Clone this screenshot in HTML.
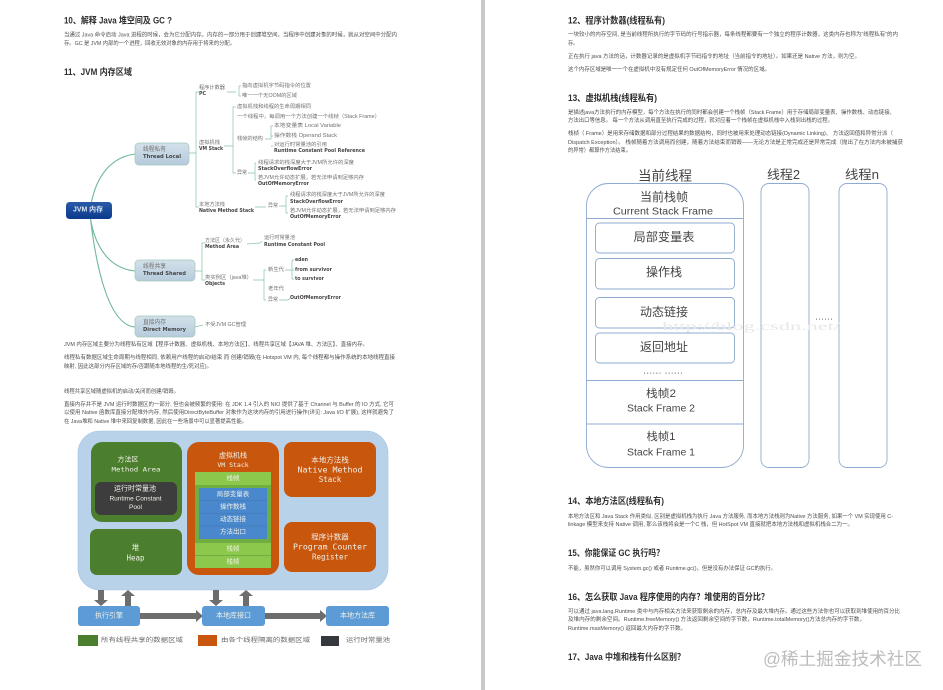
<!DOCTYPE html>
<html lang="zh"><head><meta charset="utf-8"><title>JVM 内存</title>
<style>
html,body{margin:0;padding:0;background:#fff;width:943px;height:690px;overflow:hidden}
svg{display:block;font-family:"Liberation Sans","Noto Sans CJK SC",sans-serif}
text{dominant-baseline:central}
.h{font-size:9px;font-weight:bold;fill:#2e2e2e}
.b{font-size:5.6px;fill:#4e4e4e}
.m{font-size:5.2px;fill:#707070}
.k{font-size:5px;font-weight:bold;fill:#444;font-family:"DejaVu Sans","Noto Sans CJK SC",sans-serif}
.w{fill:#f0f0e8;font-size:8px}
.mono{font-family:"DejaVu Sans Mono","Noto Sans CJK SC",monospace}
.t{fill:#444;text-anchor:middle}
.l{fill:#666;font-size:6px}
.g{fill:none;stroke:#86c4a6;stroke-width:.7}
.s{fill:none;stroke:#8fabd0;stroke-width:.9}
</style></head><body>
<svg width="943" height="690" viewBox="0 0 943 690" xmlns="http://www.w3.org/2000/svg">
<defs>
<filter id="bl" x="-2%" y="-2%" width="104%" height="104%"><feGaussianBlur stdDeviation="0.3"/></filter>
<linearGradient id="tb" x1="0" y1="0" x2="0" y2="1"><stop offset="0" stop-color="#d3e0ea"/><stop offset="1" stop-color="#b5cbdc"/></linearGradient>
<linearGradient id="jb" x1="0" y1="0" x2="0" y2="1"><stop offset="0" stop-color="#2a5aa8"/><stop offset="1" stop-color="#0c3a8c"/></linearGradient>
</defs>
<rect x="481" y="0" width="4" height="690" fill="#c8c8c8"/>
<g filter="url(#bl)">
<!-- left page text -->
<text class="h" x="64" y="20.5" textLength="108" lengthAdjust="spacingAndGlyphs">10、解释 Java 堆空间及 GC ?</text>
<text class="b" x="64" y="35.5" textLength="333" lengthAdjust="spacingAndGlyphs">当通过 Java 命令启动 Java 进程的时候，会为它分配内存。内存的一部分用于创建堆空间，当程序中创建对象的时候，就从对空间中分配内</text>
<text class="b" x="64" y="44" textLength="171" lengthAdjust="spacingAndGlyphs">存。GC 是 JVM 内部的一个进程，回收无效对象的内存用于将来的分配。</text>
<text class="h" x="64" y="72" textLength="68" lengthAdjust="spacingAndGlyphs">11、JVM 内存区域</text>
<!-- mind map lines -->
<path class="g" style="stroke-width:1.1;stroke:#6fb99a" d="M91.500 202C95 185 105 158 135 154M90.500 219C94 240 105 268 135 271M90.500 219C96 265 108 325 135 327"/>
<path class="g" d="M189 153H196M199 92H196V207H199M224 146H233M236 107H233V173H236M227 92H236M239 86V96M241 86H239M241 96H239M265 139H271V126H273M271 146H273M271 136H273M248 173H255M255 163V180M256 163H255M256 180H255M255 207H266M279 206H286M286 196V213M288 196H286M288 213H286"/>
<path class="g" d="M195 271H202M205 243H202V280H205M247 244L260 243M260 243L262 241M253 280H264M266 270H264V300H266M285 270H292M292 260V279M294 260H292M294 270H292M294 279H292M279 300H288L290 298M195 327L203 325"/>
<!-- boxes -->
<rect x="135" y="143" width="54" height="22" rx="4" fill="url(#tb)" stroke="#a3c8bd" stroke-width=".7"/>
<rect x="135" y="260" width="60" height="21" rx="4" fill="url(#tb)" stroke="#a3c8bd" stroke-width=".7"/>
<rect x="135" y="316" width="60" height="21" rx="4" fill="url(#tb)" stroke="#a3c8bd" stroke-width=".7"/>
<rect x="66" y="202" width="46" height="17" rx="3.500" fill="url(#jb)"/>
<text x="73" y="210" textLength="30" lengthAdjust="spacingAndGlyphs" style="font-size:7px;font-weight:bold;fill:#dfe8f5">JVM 内存</text>
<text class="m" x="143" y="150" textLength="23" lengthAdjust="spacingAndGlyphs" style="font-size:6px">线程私有</text>
<text class="k" x="143" y="157" textLength="38" lengthAdjust="spacingAndGlyphs" style="font-size:5.600px">Thread Local</text>
<text class="m" x="143" y="267" textLength="23" lengthAdjust="spacingAndGlyphs" style="font-size:6px">线程共享</text>
<text class="k" x="143" y="274" textLength="43" lengthAdjust="spacingAndGlyphs" style="font-size:5.600px">Thread Shared</text>
<text class="m" x="143" y="323" textLength="23" lengthAdjust="spacingAndGlyphs" style="font-size:6px">直接内存</text>
<text class="k" x="143" y="330" textLength="43" lengthAdjust="spacingAndGlyphs" style="font-size:5.600px">Direct Memory</text>
<!-- mind map labels -->
<text class="m" x="199" y="88" textLength="26" lengthAdjust="spacingAndGlyphs">程序计数器</text>
<text class="k" x="199" y="94" textLength="7" lengthAdjust="spacingAndGlyphs">PC</text>
<text class="m" x="242" y="86" textLength="69" lengthAdjust="spacingAndGlyphs">指向虚拟机字节码指令的位置</text>
<text class="m" x="242" y="96" textLength="55" lengthAdjust="spacingAndGlyphs">唯一一个无OOM的区域</text>
<text class="m" x="237" y="107" textLength="74" lengthAdjust="spacingAndGlyphs">虚拟机栈和线程的生命周期相同</text>
<text class="m" x="237" y="117" textLength="143" lengthAdjust="spacingAndGlyphs">一个线程中，每调用一个方法创建一个线帧（Stack Frame）</text>
<text class="m" x="237" y="139" textLength="26" lengthAdjust="spacingAndGlyphs">栈帧的结构</text>
<text class="m" x="274" y="126" textLength="67" lengthAdjust="spacingAndGlyphs">本地变量表 Local Variable</text>
<text class="m" x="274" y="136" textLength="63" lengthAdjust="spacingAndGlyphs">操作数栈 Operand Stack</text>
<text class="m" x="274" y="145" textLength="53" lengthAdjust="spacingAndGlyphs">对运行时常量池的引用</text>
<text class="k" x="274" y="151" textLength="91" lengthAdjust="spacingAndGlyphs">Runtime Constant Pool Reference</text>
<text class="m" x="199" y="143" textLength="21" lengthAdjust="spacingAndGlyphs">虚拟机栈</text>
<text class="k" x="199" y="149" textLength="24" lengthAdjust="spacingAndGlyphs">VM Stack</text>
<text class="m" x="237" y="173" textLength="10" lengthAdjust="spacingAndGlyphs">异常</text>
<text class="m" x="258" y="163" textLength="96" lengthAdjust="spacingAndGlyphs">线程请求的栈深度大于JVM所允许的深度</text>
<text class="k" x="258" y="169" textLength="54" lengthAdjust="spacingAndGlyphs">StackOverflowError</text>
<text class="m" x="258" y="178" textLength="106" lengthAdjust="spacingAndGlyphs">若JVM允许动态扩展，若无法申请到足够内存</text>
<text class="k" x="258" y="184" textLength="51" lengthAdjust="spacingAndGlyphs">OutOfMemoryError</text>
<text class="m" x="199" y="205" textLength="26" lengthAdjust="spacingAndGlyphs">本地方法栈</text>
<text class="k" x="199" y="211" textLength="55" lengthAdjust="spacingAndGlyphs">Native Method Stack</text>
<text class="m" x="268" y="206" textLength="10" lengthAdjust="spacingAndGlyphs">异常</text>
<text class="m" x="290" y="195" textLength="95" lengthAdjust="spacingAndGlyphs">线程请求的栈深度大于JVM所允许的深度</text>
<text class="k" x="290" y="202" textLength="53" lengthAdjust="spacingAndGlyphs">StackOverflowError</text>
<text class="m" x="290" y="211" textLength="106" lengthAdjust="spacingAndGlyphs">若JVM允许动态扩展，若无法申请到足够内存</text>
<text class="k" x="290" y="217" textLength="51" lengthAdjust="spacingAndGlyphs">OutOfMemoryError</text>
<text class="m" x="205" y="241" textLength="40" lengthAdjust="spacingAndGlyphs">方法区（永久代）</text>
<text class="k" x="205" y="247" textLength="34" lengthAdjust="spacingAndGlyphs">Method Area</text>
<text class="m" x="264" y="238" textLength="31" lengthAdjust="spacingAndGlyphs">运行时常量池</text>
<text class="k" x="264" y="245" textLength="61" lengthAdjust="spacingAndGlyphs">Runtime Constant Pool</text>
<text class="m" x="205" y="278" textLength="47" lengthAdjust="spacingAndGlyphs">类实例区（java堆）</text>
<text class="k" x="205" y="284" textLength="20" lengthAdjust="spacingAndGlyphs">Objects</text>
<text class="m" x="268" y="270" textLength="16" lengthAdjust="spacingAndGlyphs">新生代</text>
<text class="m" x="268" y="289" textLength="16" lengthAdjust="spacingAndGlyphs">老年代</text>
<text class="m" x="268" y="300" textLength="10" lengthAdjust="spacingAndGlyphs">异常</text>
<text class="k" x="295" y="260" textLength="13" lengthAdjust="spacingAndGlyphs">eden</text>
<text class="k" x="295" y="270" textLength="37" lengthAdjust="spacingAndGlyphs">from survivor</text>
<text class="k" x="295" y="279" textLength="29" lengthAdjust="spacingAndGlyphs">to survivor</text>
<text class="k" x="290" y="298" textLength="51" lengthAdjust="spacingAndGlyphs">OutOfMemoryError</text>
<text class="m" x="205" y="325" textLength="41" lengthAdjust="spacingAndGlyphs">不受JVM GC管理</text>
<!-- middle text -->
<text class="b" x="64" y="345" textLength="304" lengthAdjust="spacingAndGlyphs">JVM 内存区域主要分为线程私有区域【程序计数器、虚拟机栈、本地方法区】、线程共享区域【JAVA 堆、方法区】、直接内存。</text>
<text class="b" x="64" y="358" textLength="331" lengthAdjust="spacingAndGlyphs">线程私有数据区域生命周期与线程相同, 依赖用户线程的启动/结束 而 创建/销毁(在 Hotspot VM 内, 每个线程都与操作系统的本地线程直接</text>
<text class="b" x="64" y="367" textLength="148" lengthAdjust="spacingAndGlyphs">映射, 因此这部分内存区域的存/否跟随本地线程的生/死对应)。</text>
<text class="b" x="64" y="392" textLength="115" lengthAdjust="spacingAndGlyphs">线程共享区域随虚拟机的启动/关闭而创建/销毁。</text>
<text class="b" x="64" y="405" textLength="330" lengthAdjust="spacingAndGlyphs">直接内存并不是 JVM 运行时数据区的一部分, 但也会被频繁的使用: 在 JDK 1.4 引入的 NIO 提供了基于 Channel 与 Buffer 的 IO 方式, 它可</text>
<text class="b" x="64" y="413" textLength="330" lengthAdjust="spacingAndGlyphs">以使用 Native 函数库直接分配堆外内存, 然后使用DirectByteBuffer 对象作为这块内存的引用进行操作(详见: Java I/O 扩展), 这样就避免了</text>
<text class="b" x="64" y="422" textLength="183" lengthAdjust="spacingAndGlyphs">在 Java堆和 Native 堆中来回复制数据, 因此在一些场景中可以显著提高性能。</text>
<!-- JVM area diagram -->
<rect x="78" y="431" width="310" height="159" rx="22" fill="#b8d2ea" stroke="#a5c2de" stroke-width=".6"/>
<rect x="91" y="442" width="91" height="80" rx="11" fill="#4c7f2e"/>
<rect x="95" y="482" width="82" height="33" rx="6" fill="#3d3d3d"/>
<rect x="90" y="529" width="92" height="46" rx="7" fill="#4c7f2e"/>
<rect x="187" y="442" width="92" height="133" rx="12" fill="#c9560f"/>
<rect x="195" y="472" width="76" height="96" fill="#6fae42"/>
<rect x="195" y="472" width="76" height="13" fill="#8cc84b"/>
<rect x="195" y="543" width="76" height="12" fill="#8cc84b"/>
<rect x="195" y="556" width="76" height="12" fill="#8cc84b"/>
<rect x="199" y="488" width="68" height="51" fill="#4a88cc"/>
<path d="M199 500.500H267M199 513.500H267M199 526H267" stroke="#3f72ad" stroke-width=".6" fill="none"/>
<rect x="284" y="442" width="92" height="55" rx="8" fill="#c9560f"/>
<rect x="284" y="522" width="92" height="50" rx="8" fill="#c9560f"/>
<text class="w" x="128" y="460" text-anchor="middle" style="font-size:7px">方法区</text>
<text class="w mono" x="136" y="469.500" text-anchor="middle" textLength="49" lengthAdjust="spacingAndGlyphs" style="font-size:6.500px">Method Area</text>
<text class="w" x="135" y="489" text-anchor="middle" style="font-size:7px">运行时常量池</text>
<text class="w" x="135.500" y="499" text-anchor="middle" style="font-size:6.500px">Runtime Constant</text>
<text class="w" x="135.500" y="507.500" text-anchor="middle" style="font-size:6.500px">Pool</text>
<text class="w" x="135.500" y="547.500" text-anchor="middle" style="font-size:7.500px">堆</text>
<text class="w mono" x="135.500" y="558" text-anchor="middle" style="font-size:7.500px">Heap</text>
<text class="w" x="233" y="456" text-anchor="middle" style="font-size:7px">虚拟机栈</text>
<text class="w mono" x="233" y="465" text-anchor="middle" style="font-size:6.500px">VM Stack</text>
<text class="w" x="233" y="478.500" text-anchor="middle" style="font-size:6.500px">栈帧</text>
<text class="w" x="233" y="494.500" text-anchor="middle" style="font-size:6.500px">局部变量表</text>
<text class="w" x="233" y="507" text-anchor="middle" style="font-size:6.500px">操作数栈</text>
<text class="w" x="233" y="519.500" text-anchor="middle" style="font-size:6.500px">动态链接</text>
<text class="w" x="233" y="532" text-anchor="middle" style="font-size:6.500px">方法出口</text>
<text class="w" x="233" y="549" text-anchor="middle" style="font-size:6.500px">栈帧</text>
<text class="w" x="233" y="562" text-anchor="middle" style="font-size:6.500px">栈帧</text>
<text class="w" x="330" y="460" text-anchor="middle" style="font-size:7.500px">本地方法栈</text>
<text class="w mono" x="330" y="470" text-anchor="middle" textLength="65" lengthAdjust="spacingAndGlyphs" style="font-size:7.500px">Native Method</text>
<text class="w mono" x="330" y="479.500" text-anchor="middle" style="font-size:7.500px">Stack</text>
<text class="w" x="330" y="537" text-anchor="middle" style="font-size:7.500px">程序计数器</text>
<text class="w mono" x="330" y="547" text-anchor="middle" textLength="74" lengthAdjust="spacingAndGlyphs" style="font-size:7.500px">Program Counter</text>
<text class="w mono" x="330" y="557" text-anchor="middle" style="font-size:7.500px">Register</text>
<!-- arrows -->
<g fill="#6d6d6d">
<path d="M98 590H104V600H108L101 606L94 600H98Z"/>
<path d="M125 606V596H121L128 590L135 596H131V606Z"/>
<path d="M213 590H219V600H223L216 606L209 600H213Z"/>
<path d="M243 606V596H239L246 590L253 596H249V606Z"/>
<path d="M140 613H196V610L203 616L196 622V619H140Z"/>
<path d="M265 613H320V610L327 616L320 622V619H265Z"/>
</g>
<rect x="78" y="606" width="62" height="20" rx="3" fill="#5b9bd5"/>
<rect x="202" y="606" width="63" height="20" rx="3" fill="#5b9bd5"/>
<rect x="326" y="606" width="63" height="20" rx="3" fill="#5b9bd5"/>
<text class="w" x="109" y="616" text-anchor="middle" style="font-size:7px">执行引擎</text>
<text class="w" x="233.500" y="616" text-anchor="middle" style="font-size:7px">本地库接口</text>
<text class="w" x="357.500" y="616" text-anchor="middle" style="font-size:7px">本地方法库</text>
<rect x="78" y="635" width="20" height="11" fill="#4c7f2e"/>
<rect x="198" y="635" width="19" height="11" fill="#c9560f"/>
<rect x="321" y="636" width="18" height="10" fill="#34383c"/>
<text class="l" x="101" y="641" textLength="82" lengthAdjust="spacingAndGlyphs">所有线程共享的数据区域</text>
<text class="l" x="221" y="641" textLength="89" lengthAdjust="spacingAndGlyphs">由各个线程隔离的数据区域</text>
<text class="l" x="346" y="641" textLength="44" lengthAdjust="spacingAndGlyphs">运行时常量池</text>
<!-- right text -->
<text class="h" x="568" y="20.500" textLength="97" lengthAdjust="spacingAndGlyphs">12、程序计数器(线程私有)</text>
<text class="b" x="568" y="35" textLength="330" lengthAdjust="spacingAndGlyphs">一块较小的内存空间, 是当前线程所执行的字节码的行号指示器，每条线程都要有一个独立的程序计数器，这类内存也称为“线程私有”的内</text>
<text class="b" x="568" y="44" textLength="10" lengthAdjust="spacingAndGlyphs">存。</text>
<text class="b" x="568" y="57" textLength="292" lengthAdjust="spacingAndGlyphs">正在执行 java 方法的话，计数器记录的是虚拟机字节码指令的地址（当前指令的地址）。如果还是 Native 方法，则为空。</text>
<text class="b" x="568" y="70" textLength="202" lengthAdjust="spacingAndGlyphs">这个内存区域是唯一一个在虚拟机中没有规定任何 OutOfMemoryError 情况的区域。</text>
<text class="h" x="568" y="98" textLength="89" lengthAdjust="spacingAndGlyphs">13、虚拟机栈(线程私有)</text>
<text class="b" x="568" y="113" textLength="327" lengthAdjust="spacingAndGlyphs">是描述java方法执行的内存模型，每个方法在执行的同时都会创建一个栈帧（Stack Frame）用于存储局部变量表、操作数栈、动态链接、</text>
<text class="b" x="568" y="121" textLength="265" lengthAdjust="spacingAndGlyphs">方法出口等信息。 每一个方法从调用直至执行完成的过程，就对应着一个栈帧在虚拟机栈中入栈到出栈的过程。</text>
<text class="b" x="568" y="134" textLength="325" lengthAdjust="spacingAndGlyphs">栈帧（ Frame）是用来存储数据和部分过程结果的数据结构，同时也被用来处理动态链接(Dynamic Linking)、 方法返回值和异常分派（</text>
<text class="b" x="568" y="143" textLength="335" lengthAdjust="spacingAndGlyphs">Dispatch Exception）。 栈帧随着方法调用而创建，随着方法结束而销毁——无论方法是正常完成还是异常完成（抛出了在方法内未被捕获</text>
<text class="b" x="568" y="151" textLength="63" lengthAdjust="spacingAndGlyphs">的异常）都算作方法结束。</text>
<!-- stack diagram -->
<text class="t" x="665" y="176" textLength="54" lengthAdjust="spacingAndGlyphs" style="font-size:13.500px">当前线程</text>
<text class="t" x="783.500" y="175" textLength="33" lengthAdjust="spacingAndGlyphs" style="font-size:12.500px">线程2</text>
<text class="t" x="862" y="175" textLength="34" lengthAdjust="spacingAndGlyphs" style="font-size:12.500px">线程n</text>
<rect x="586.500" y="183.500" width="157" height="284" rx="22" fill="#fff" class="s" style="fill:#fff"/>
<path class="s" d="M586.500 218.500H743.500M586.500 380.500H743.500M586.500 424H743.500"/>
<rect x="595.500" y="223" width="139" height="30" rx="4" class="s"/>
<rect x="595.500" y="258.500" width="139" height="30.500" rx="4" class="s"/>
<rect x="595.500" y="297.500" width="139" height="30.500" rx="4" class="s"/>
<rect x="595.500" y="333" width="139" height="30" rx="4" class="s"/>
<rect x="761" y="183.500" width="48" height="284" rx="8" class="s"/>
<rect x="839" y="183.500" width="48" height="284" rx="8" class="s"/>
<text x="662" y="326" textLength="178" lengthAdjust="spacingAndGlyphs" style="font-family:'Liberation Serif',serif;font-size:12px;fill:#e8e8e8">http://blog.csdn.net/</text>
<text class="t" x="664" y="197" textLength="48" lengthAdjust="spacingAndGlyphs" style="font-size:12px">当前栈帧</text>
<text class="t" x="663" y="212" textLength="100" lengthAdjust="spacingAndGlyphs" style="font-size:10px">Current Stack Frame</text>
<text class="t" x="664" y="237" textLength="61" lengthAdjust="spacingAndGlyphs" style="font-size:12px">局部变量表</text>
<text class="t" x="664" y="272" textLength="36" lengthAdjust="spacingAndGlyphs" style="font-size:12px">操作栈</text>
<text class="t" x="664" y="312" textLength="48" lengthAdjust="spacingAndGlyphs" style="font-size:12px">动态链接</text>
<text class="t" x="664" y="347" textLength="48" lengthAdjust="spacingAndGlyphs" style="font-size:12px">返回地址</text>
<text class="t" x="663" y="372" textLength="40" lengthAdjust="spacingAndGlyphs" style="font-size:7px">...... ......</text>
<text class="t" x="661" y="394" textLength="30" lengthAdjust="spacingAndGlyphs" style="font-size:11px">栈帧2</text>
<text class="t" x="661" y="409" textLength="68" lengthAdjust="spacingAndGlyphs" style="font-size:10px">Stack Frame 2</text>
<text class="t" x="661" y="437" textLength="29" lengthAdjust="spacingAndGlyphs" style="font-size:11px">栈帧1</text>
<text class="t" x="661" y="453" textLength="68" lengthAdjust="spacingAndGlyphs" style="font-size:10px">Stack Frame 1</text>
<text class="t" x="824" y="318" textLength="18" lengthAdjust="spacingAndGlyphs" style="font-size:7px">......</text>
<!-- right lower text -->
<text class="h" x="568" y="501" textLength="96" lengthAdjust="spacingAndGlyphs">14、本地方法区(线程私有)</text>
<text class="b" x="568" y="517" textLength="325" lengthAdjust="spacingAndGlyphs">本地方法区和 Java Stack 作用类似, 区别是虚拟机栈为执行 Java 方法服务, 而本地方法栈则为Native 方法服务, 如果一个 VM 实现使用 C-</text>
<text class="b" x="568" y="525" textLength="285" lengthAdjust="spacingAndGlyphs">linkage 模型来支持 Native 调用, 那么该栈将会是一个C 栈，但 HotSpot VM 直接就把本地方法栈和虚拟机栈合二为一。</text>
<text class="h" x="568" y="553" textLength="96" lengthAdjust="spacingAndGlyphs">15、你能保证 GC 执行吗？</text>
<text class="b" x="568" y="569" textLength="208" lengthAdjust="spacingAndGlyphs">不能，虽然你可以调用 System.gc() 或者 Runtime.gc()，但是没有办法保证 GC的执行。</text>
<text class="h" x="568" y="597" textLength="201" lengthAdjust="spacingAndGlyphs">16、怎么获取 Java 程序使用的内存？堆使用的百分比？</text>
<text class="b" x="568" y="612" textLength="332" lengthAdjust="spacingAndGlyphs">可以通过 java.lang.Runtime 类中与内存相关方法来获取剩余的内存，总内存及最大堆内存。通过这些方法你也可以获取到堆使用的百分比</text>
<text class="b" x="568" y="620" textLength="297" lengthAdjust="spacingAndGlyphs">及堆内存的剩余空间。Runtime.freeMemory() 方法返回剩余空间的字节数，Runtime.totalMemory()方法总内存的字节数，</text>
<text class="b" x="568" y="629" textLength="118" lengthAdjust="spacingAndGlyphs">Runtime.maxMemory() 返回最大内存的字节数。</text>
<text class="h" x="568" y="657" textLength="117" lengthAdjust="spacingAndGlyphs">17、Java 中堆和栈有什么区别？</text>
<text x="763" y="659" textLength="159" lengthAdjust="spacingAndGlyphs" style="font-size:17.500px;fill:#bcbcbc">@稀土掘金技术社区</text>
</g>
</svg>
</body></html>
